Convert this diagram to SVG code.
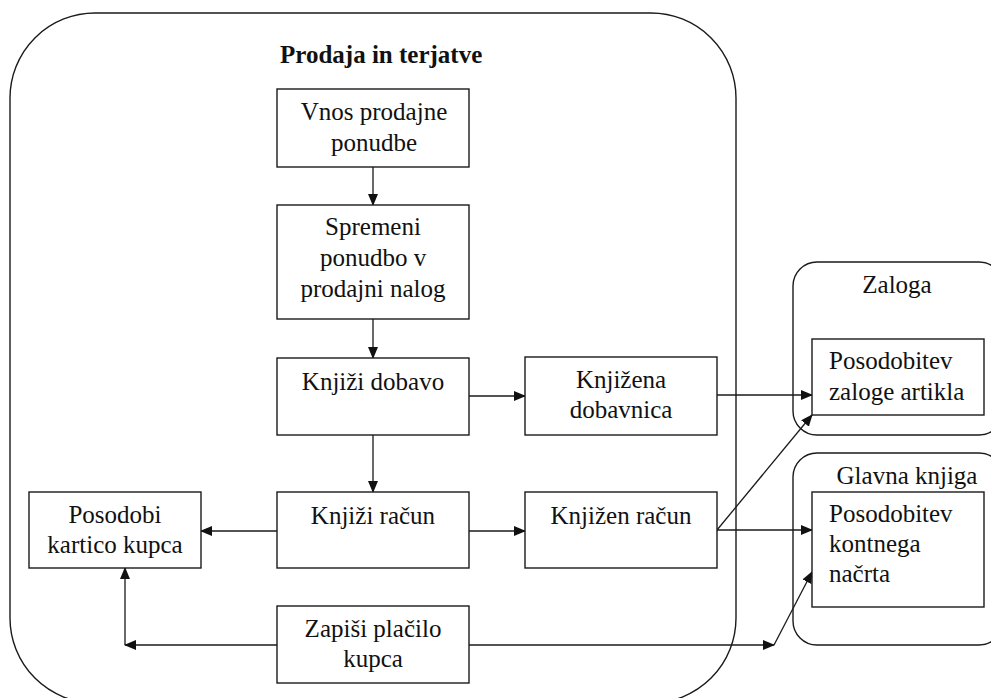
<svg xmlns="http://www.w3.org/2000/svg" width="991" height="698" viewBox="0 0 991 698">
<style>
.c{fill:none;stroke:#1a1a1a;stroke-width:1.4}
.b{fill:#fff;stroke:#1a1a1a;stroke-width:1.4}
.l{fill:none;stroke:#1a1a1a;stroke-width:1.3}
text{font-family:'Liberation Serif','Times New Roman',serif;font-size:25px;fill:#111}
.m{text-anchor:middle}
.t{font-weight:bold}
</style>
<defs>
<marker id="a" markerWidth="12" markerHeight="10" refX="11" refY="5" orient="auto" markerUnits="userSpaceOnUse">
<path d="M0,0 L12,5 L0,10 Z" fill="#111"/>
</marker>
</defs>
<rect width="991" height="698" fill="#fff"/>
<g id="container-prodaja">
<rect class="c" x="10" y="13" width="726" height="690" rx="85" ry="85"/>
<text class="t" x="280" y="63">Prodaja in terjatve</text>
</g>
<g id="container-zaloga">
<rect class="c" x="793" y="262" width="210" height="173" rx="24" ry="24"/>
<text class="m" x="897" y="293">Zaloga</text>
</g>
<g id="container-glavna">
<rect class="c" x="793" y="453" width="210" height="192" rx="24" ry="24"/>
<text class="m" x="907" y="484">Glavna knjiga</text>
</g>
<g id="connectors">
<line class="l" x1="373" y1="167" x2="373" y2="205" marker-end="url(#a)"/>
<line class="l" x1="373" y1="319" x2="373" y2="358" marker-end="url(#a)"/>
<line class="l" x1="373" y1="435" x2="373" y2="492" marker-end="url(#a)"/>
<line class="l" x1="469" y1="396" x2="525" y2="396" marker-end="url(#a)"/>
<line class="l" x1="717" y1="395" x2="812" y2="395" marker-end="url(#a)"/>
<line class="l" x1="277" y1="531" x2="201" y2="531" marker-end="url(#a)"/>
<line class="l" x1="469" y1="531" x2="525" y2="531" marker-end="url(#a)"/>
<line class="l" x1="717" y1="530" x2="812" y2="530" marker-end="url(#a)"/>
<line class="l" x1="717" y1="530" x2="812" y2="415" marker-end="url(#a)"/>
<line class="l" x1="277" y1="645" x2="125" y2="645" marker-end="url(#a)"/>
<line class="l" x1="125" y1="645" x2="125" y2="568" marker-end="url(#a)"/>
<line class="l" x1="469" y1="645" x2="774" y2="645" marker-end="url(#a)"/>
<line class="l" x1="774" y1="645" x2="812" y2="572" marker-end="url(#a)"/>
</g>
<g id="vnos">
<rect class="b" x="277" y="89" width="192" height="78"/>
<text class="m" x="374" y="120">Vnos prodajne</text>
<text class="m" x="374" y="151">ponudbe</text>
</g>
<g id="spremeni">
<rect class="b" x="277" y="205" width="192" height="114"/>
<text class="m" x="373" y="235">Spremeni</text>
<text class="m" x="373" y="266">ponudbo v</text>
<text class="m" x="373" y="297">prodajni nalog</text>
</g>
<g id="knjizi-dobavo">
<rect class="b" x="277" y="358" width="192" height="77"/>
<text class="m" x="373" y="390">Knjiži dobavo</text>
</g>
<g id="knjizena-dobavnica">
<rect class="b" x="525" y="357" width="192" height="78"/>
<text class="m" x="621" y="388">Knjižena</text>
<text class="m" x="621" y="418">dobavnica</text>
</g>
<g id="posodobitev-zaloge">
<rect class="b" x="812" y="339" width="172" height="76"/>
<text x="829" y="369">Posodobitev</text>
<text x="829" y="400">zaloge artikla</text>
</g>
<g id="knjizi-racun">
<rect class="b" x="277" y="492" width="192" height="76"/>
<text class="m" x="373" y="524">Knjiži račun</text>
</g>
<g id="posodobi-kartico">
<rect class="b" x="29" y="492" width="172" height="76"/>
<text class="m" x="115" y="523">Posodobi</text>
<text class="m" x="115" y="553">kartico kupca</text>
</g>
<g id="knjizen-racun">
<rect class="b" x="525" y="492" width="192" height="76"/>
<text class="m" x="621" y="524">Knjižen račun</text>
</g>
<g id="posodobitev-kontnega">
<rect class="b" x="812" y="492" width="172" height="115"/>
<text x="829" y="522">Posodobitev</text>
<text x="829" y="552">kontnega</text>
<text x="829" y="582">načrta</text>
</g>
<g id="zapisi-placilo">
<rect class="b" x="277" y="606" width="192" height="77"/>
<text class="m" x="373" y="637">Zapiši plačilo</text>
<text class="m" x="373" y="667">kupca</text>
</g>
</svg>
